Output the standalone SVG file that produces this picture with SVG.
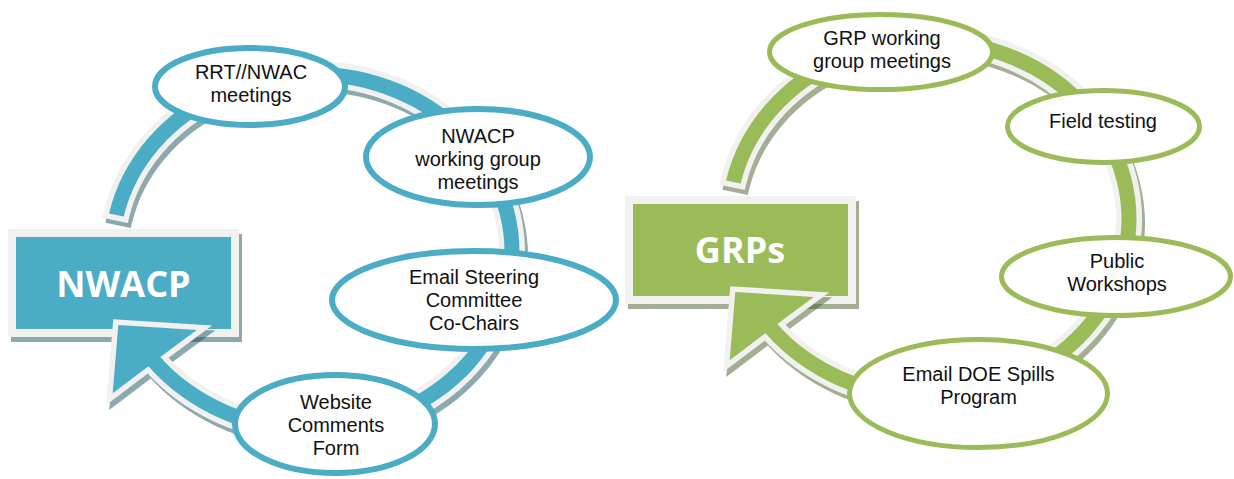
<svg xmlns="http://www.w3.org/2000/svg" width="1234" height="479" viewBox="0 0 1234 479">
<style>
.lbl{font-family:"Liberation Sans",Arial,sans-serif;font-size:20px;fill:#111;text-anchor:middle}
.ttl{font-family:"Open Sans","Liberation Sans",sans-serif;font-weight:700;font-size:36px;fill:#fff;text-anchor:middle}
.eb{fill:#fff;stroke:#4bacc6;stroke-width:6}
.eg{fill:#fff;stroke:#9bbb59;stroke-width:5}
.light{stroke:#f1f1ef;stroke-width:11;paint-order:stroke;stroke-linejoin:miter}
</style>
<defs>
<path id="band" d="M 109.03 213.43 A 207.5 185.5 0 1 1 148.49 366.21 L 112.7 393.3 L 118.3 325 L 196.7 330 L 160.31 356.97 A 192.5 170.5 0 1 0 123.71 216.55 Z"/>
<rect id="box" x="12" y="233" width="223" height="100"/>
</defs>
<rect width="1234" height="479" fill="#fff"/>

<!-- left cycle -->
<g id="nwacp">
  <g opacity="0.5" fill="#1d5361" stroke="#1d5361" stroke-width="8"><use href="#box" transform="translate(3,5)"/></g>
  <use href="#box" fill="#4bacc6" stroke="#f1f1ef" stroke-width="8"/>
  <text class="ttl" x="123.5" y="297">NWACP</text>
</g>
<g id="connectors-left">
  <g opacity="0.5" fill="#1d5361" stroke="#1d5361" stroke-width="11"><use href="#band" transform="translate(3,5)"/></g>
  <use href="#band" class="light" fill="#4bacc6"/>
</g>
<g id="rrt">
  <ellipse class="eb" cx="250" cy="86.5" rx="95" ry="38.5"/>
  <text class="lbl" x="251" y="79">RRT//NWAC</text>
  <text class="lbl" x="251" y="102">meetings</text>
</g>
<g id="nwacp-wg">
  <ellipse class="eb" cx="478" cy="157" rx="112" ry="48"/>
  <text class="lbl" x="478" y="143">NWACP</text>
  <text class="lbl" x="478" y="166">working group</text>
  <text class="lbl" x="478" y="189">meetings</text>
</g>
<g id="email-steering">
  <ellipse class="eb" cx="474" cy="300" rx="142" ry="49"/>
  <text class="lbl" x="474" y="284">Email Steering</text>
  <text class="lbl" x="474" y="307">Committee</text>
  <text class="lbl" x="474" y="330">Co-Chairs</text>
</g>
<g id="website">
  <ellipse class="eb" cx="335" cy="424" rx="100" ry="49"/>
  <text class="lbl" x="336" y="409">Website</text>
  <text class="lbl" x="336" y="432">Comments</text>
  <text class="lbl" x="336" y="455">Form</text>
</g>

<!-- right cycle -->
<g id="grps">
  <g transform="translate(617,-33)">
    <g opacity="0.5" fill="#4b5f2d" stroke="#4b5f2d" stroke-width="8"><use href="#box" transform="translate(3,5)"/></g>
    <use href="#box" fill="#9bbb59" stroke="#f1f1ef" stroke-width="8"/>
  </g>
  <text class="ttl" x="740" y="263">GRPs</text>
</g>
<g id="connectors-right" transform="translate(617,-33)">
  <g opacity="0.5" fill="#4b5f2d" stroke="#4b5f2d" stroke-width="11"><use href="#band" transform="translate(3,5)"/></g>
  <use href="#band" class="light" fill="#9bbb59"/>
</g>
<g id="grp-wg">
  <ellipse class="eg" cx="881" cy="52" rx="111.5" ry="37.5"/>
  <text class="lbl" x="882" y="44.5">GRP working</text>
  <text class="lbl" x="882" y="67.5">group meetings</text>
</g>
<g id="field-testing">
  <ellipse class="eg" cx="1103.5" cy="126.5" rx="96" ry="36"/>
  <text class="lbl" x="1103" y="128">Field testing</text>
</g>
<g id="public-workshops">
  <ellipse class="eg" cx="1116" cy="276.5" rx="114.5" ry="39"/>
  <text class="lbl" x="1117" y="267.5">Public</text>
  <text class="lbl" x="1117" y="290.5">Workshops</text>
</g>
<g id="email-doe">
  <ellipse class="eg" cx="978.5" cy="393.5" rx="129" ry="54"/>
  <text class="lbl" x="978.5" y="380.5">Email DOE Spills</text>
  <text class="lbl" x="978.5" y="403.5">Program</text>
</g>
</svg>
